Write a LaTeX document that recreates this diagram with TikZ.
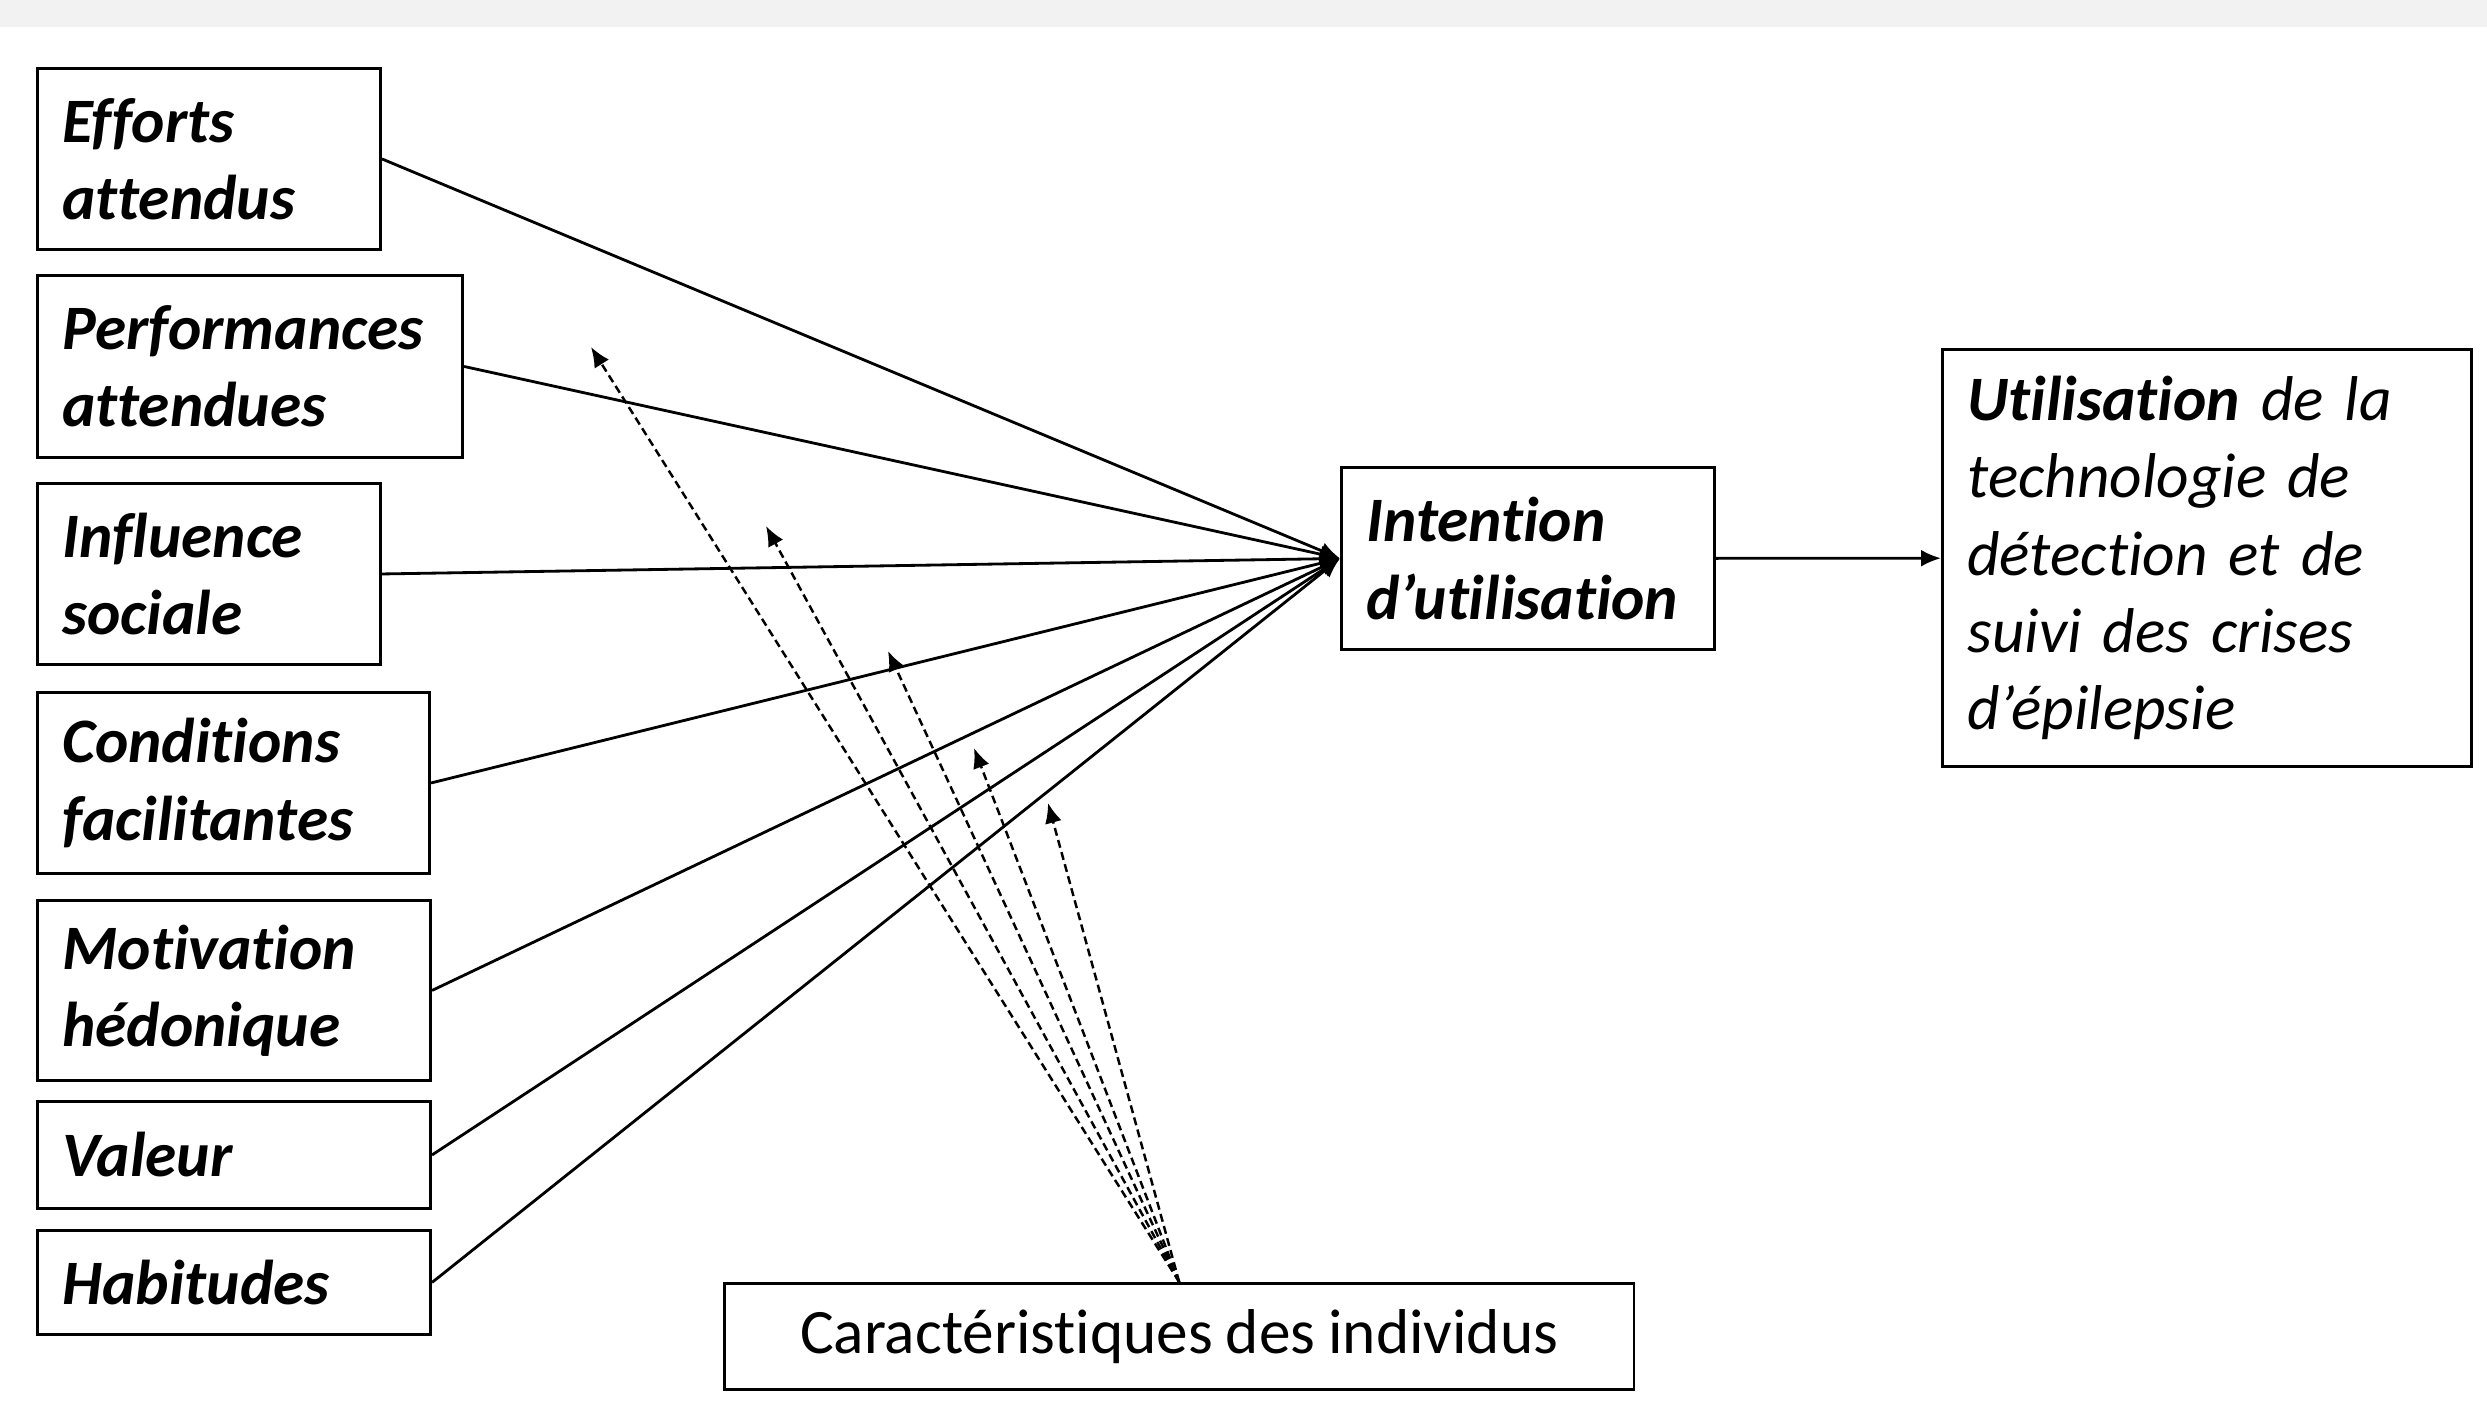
\documentclass[tikz,border=0pt]{standalone}
\usepackage{fontspec}
\setmainfont{Carlito}[Ligatures={NoCommon}, WordSpace=0.9]
\usetikzlibrary{arrows.meta}
\definecolor{topband}{HTML}{F2F2F2}

\begin{document}
\begin{tikzpicture}[x=0.01cm, y=-0.01cm,
    factor/.style={draw, line width=0.8pt, anchor=north west, inner xsep=0.25cm, inner ysep=0pt, align=left, font=\fontsize{18}{22}\selectfont\bfseries\itshape},
    link/.style={line width=0.8pt, -{Latex[length=2mm, width=1.7mm]}},
    moderator/.style={link, line width=0.7pt, dash pattern=on 0.8mm off 0.45mm},]
    \useasboundingbox (0,0) rectangle (2487,1412);
    \fill[topband] (0,0) rectangle (2487,27);
    \node[factor, text width=2.93cm, minimum height=1.81cm] (efforts) at (36,67) {Efforts\\attendus};
    \node[factor, text width=3.75cm, minimum height=1.82cm] (perf) at (36,274) {Performances\\attendues};
    \node[factor, text width=2.93cm, minimum height=1.81cm] (influence) at (36,482) {Influence\\sociale};
    \node[factor, text width=3.42cm, minimum height=1.81cm] (conditions) at (36,691) {Conditions\\facilitantes};
    \node[factor, text width=3.43cm, minimum height=1.80cm] (motivation) at (36,899) {Motivation\\hédonique};
    \node[factor, text width=3.43cm, minimum height=1.07cm] (valeur) at (36,1100) {Valeur};
    \node[factor, text width=3.43cm, minimum height=1.04cm] (habitudes) at (36,1229) {Habitudes};
    \node[factor, text width=3.23cm, minimum height=1.82cm] (intention) at (1340,466) {Intention\\d’utilisation};
    \node[factor, text width=4.79cm, minimum height=4.17cm, font=\fontsize{18}{22}\selectfont\itshape] (usage) at (1941,348)
        {{\bfseries Utilisation} de la\\technologie de\\détection et de\\suivi des crises\\d’épilepsie};
    \node[draw, line width=0.8pt, anchor=north west, minimum width=9.09cm, minimum height=1.06cm, font=\fontsize{18}{22}\selectfont] (carac) at (723,1282) {Caractéristiques des individus};
    \foreach \f in {efforts, perf, influence, conditions, motivation, valeur, habitudes}
        \draw[link] (\f.east) -- (intention.west);
    \draw[link] (intention) -- (usage);
    \foreach \tx/\ty [count=\i] in {591/347, 766/526, 888/651, 974/748, 1048/803}
        \coordinate (tip\i) at (\tx,\ty);
    \foreach \i in {1,...,5}
        \draw[moderator] (carac.north) -- (tip\i);
\end{tikzpicture}
\end{document}
